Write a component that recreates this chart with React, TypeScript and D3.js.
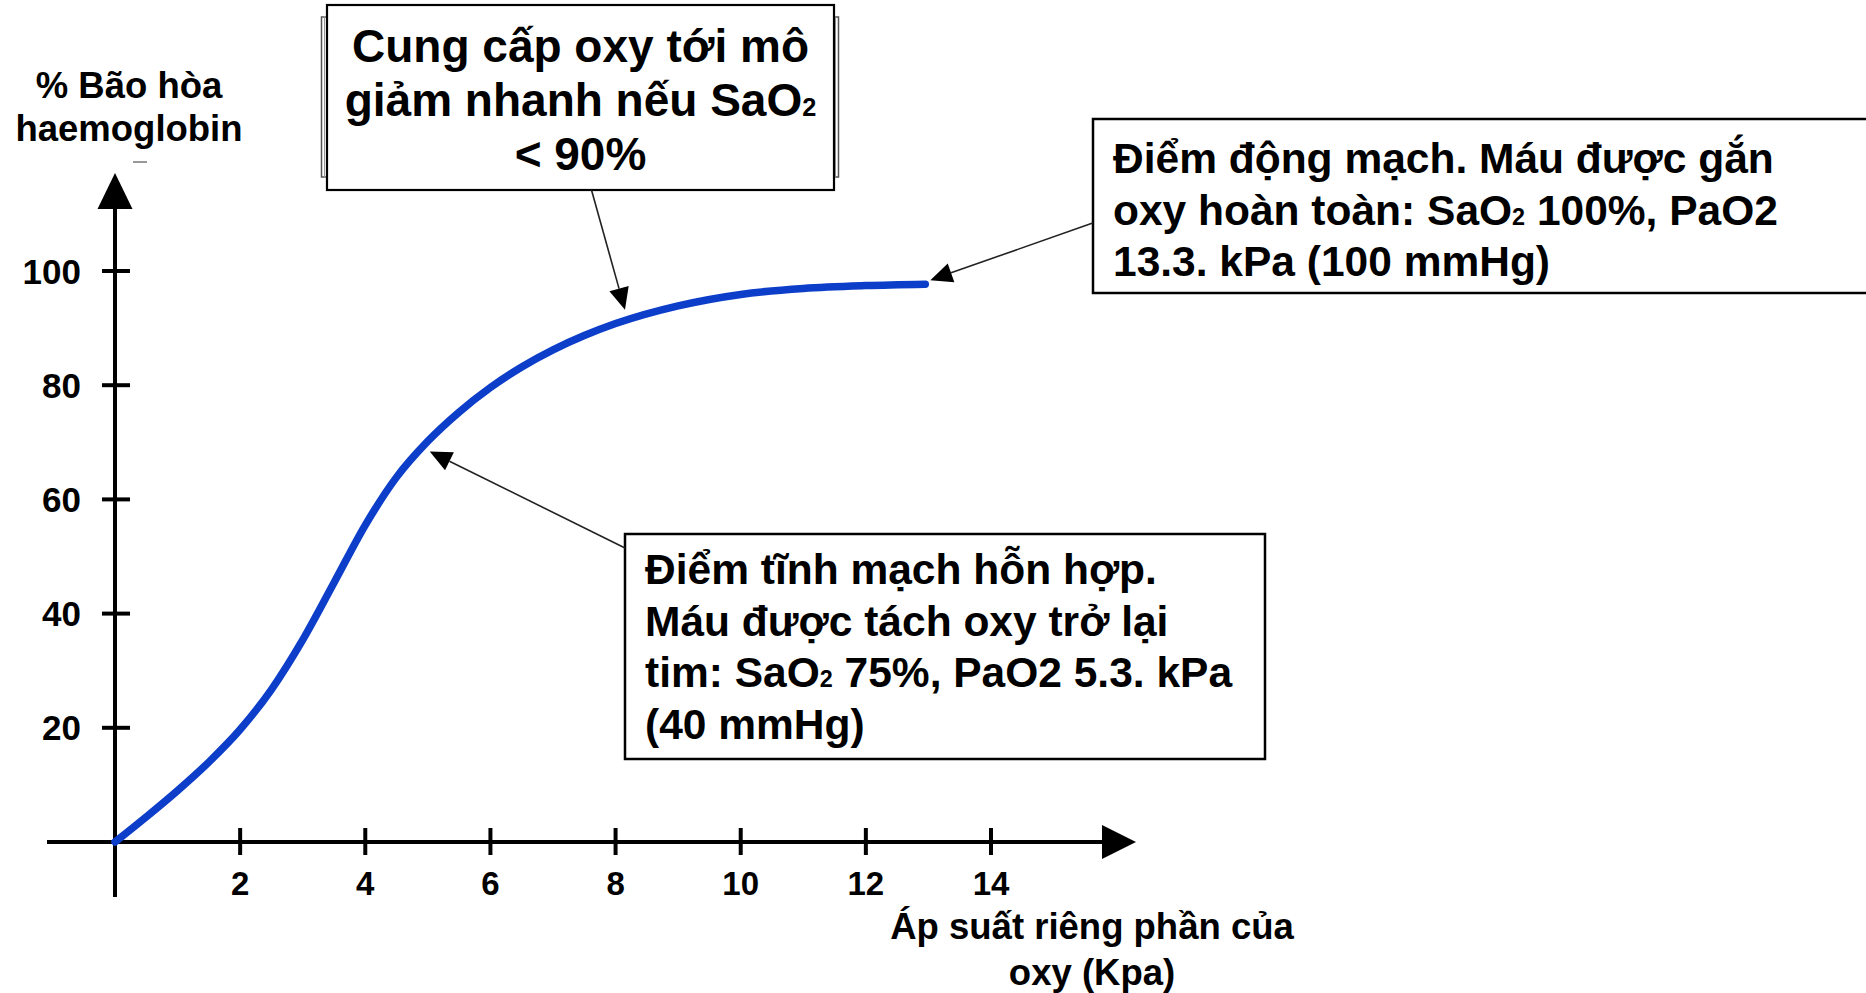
import React from "react";
import * as d3 from "d3";

// ---- data ----
const curveX = [0, 0.5, 1, 1.5, 2, 2.5, 3, 3.5, 4, 4.5, 5, 5.5, 6, 6.5, 7, 7.5, 8, 9, 10, 11, 12, 12.95];
const curveY = [0, 4.4, 9.0, 14.0, 19.7, 26.7, 35.4, 45.4, 55.5, 63.9, 70.2, 75.3, 79.6, 83.2, 86.2, 88.7, 90.8, 93.9, 95.9, 96.95, 97.45, 97.7];
const xTicks = [2, 4, 6, 8, 10, 12, 14];
const yTicks = [20, 40, 60, 80, 100];
const yTitle = ["% Bão hòa", "haemoglobin"];
const xTitle = ["Áp suất riêng phần của", "oxy (Kpa)"];
// annotation arrow tips in data coordinates
const tipX = [8.15, 13.03, 5.03];
const tipY = [93.2, 98.4, 68.4];

const W = 1866;
const H = 993;

type Seg = string | { sub: string };
const box1Lines: Seg[][] = [
  ["Cung cấp oxy tới mô"],
  ["giảm nhanh nếu SaO", { sub: "2" }],
  ["< 90%"],
];
const box2Lines: Seg[][] = [
  ["Điểm động mạch. Máu được gắn"],
  ["oxy hoàn toàn: SaO", { sub: "2" }, " 100%, PaO2"],
  ["13.3. kPa (100 mmHg)"],
];
const box3Lines: Seg[][] = [
  ["Điểm tĩnh mạch hỗn hợp."],
  ["Máu được tách oxy trở lại"],
  ["tim: SaO", { sub: "2" }, " 75%, PaO2 5.3. kPa"],
  ["(40 mmHg)"],
];

const FONT = "'Liberation Sans', Arial, Helvetica, sans-serif";

function renderSegs(segs: Seg[], fs: number) {
  return segs.map((s, i) =>
    typeof s === "string" ? (
      <tspan key={i}>{s}</tspan>
    ) : (
      <tspan key={i} fontSize={fs * 0.55}>{s.sub}</tspan>
    )
  );
}

function Arrow({ x1, y1, x2, y2 }: { x1: number; y1: number; x2: number; y2: number }) {
  const ang = Math.atan2(y2 - y1, x2 - x1);
  const L = 22;
  const hw = 10;
  const bx = x2 - L * Math.cos(ang);
  const by = y2 - L * Math.sin(ang);
  const px = -Math.sin(ang) * hw;
  const py = Math.cos(ang) * hw;
  return (
    <g>
      <line x1={x1} y1={y1} x2={bx} y2={by} stroke="#222" strokeWidth={1.6} />
      <polygon points={`${x2},${y2} ${bx + px},${by + py} ${bx - px},${by - py}`} fill="#000" />
    </g>
  );
}

export default function App() {
  const x = d3.scaleLinear().domain([0, 14]).range([115, 991]);
  const y = d3.scaleLinear().domain([0, 100]).range([842, 271]);
  const pts: [number, number][] = curveX.map((v, i) => [v, curveY[i]]);
  const line = d3
    .line<[number, number]>()
    .x((d) => x(d[0]))
    .y((d) => y(d[1]))
    .curve(d3.curveMonotoneX);

  const x0 = x(0);
  const y0 = y(0);

  return (
    <svg
      width={W}
      height={H}
      viewBox={`0 0 ${W} ${H}`}
      style={{ position: "absolute", left: 0, top: 0, background: "#fff" }}
    >
      <rect x={0} y={0} width={W} height={H} fill="#fff" />

      {/* y axis */}
      <line x1={x0} y1={205} x2={x0} y2={897} stroke="#000" strokeWidth={4} />
      <polygon points={`${x0},173 ${x0 - 17.5},209 ${x0 + 17.5},209`} fill="#000" />
      {/* x axis */}
      <line x1={47} y1={y0} x2={1105} y2={y0} stroke="#000" strokeWidth={4} />
      <polygon points={`1136,${y0} 1102,${y0 - 17} 1102,${y0 + 17}`} fill="#000" />

      {yTicks.map((t) => (
        <g key={"y" + t}>
          <line x1={x0 - 13} x2={x0 + 15} y1={y(t)} y2={y(t)} stroke="#000" strokeWidth={4} />
          <text
            x={81}
            y={y(t) + 12.5}
            textAnchor="end"
            fontFamily={FONT}
            fontWeight="bold"
            fontSize={35}
            fill="#000"
          >
            {t}
          </text>
        </g>
      ))}
      {xTicks.map((t) => (
        <g key={"x" + t}>
          <line x1={x(t)} x2={x(t)} y1={y0 - 14} y2={y0 + 13} stroke="#000" strokeWidth={4} />
          <text
            x={x(t)}
            y={895}
            textAnchor="middle"
            fontFamily={FONT}
            fontWeight="bold"
            fontSize={33}
            fill="#000"
          >
            {t}
          </text>
        </g>
      ))}

      {/* axis titles */}
      {yTitle.map((s, i) => (
        <text key={s} x={129} y={98 + i * 43} textAnchor="middle" fontFamily={FONT} fontWeight="bold" fontSize={36.5} fill="#000">
          {s}
        </text>
      ))}
      <line x1={133} y1={162} x2={147} y2={162} stroke="#999" strokeWidth={2} />
      {xTitle.map((s, i) => (
        <text key={s} x={1092} y={939 + i * 46} textAnchor="middle" fontFamily={FONT} fontWeight="bold" fontSize={36.5} fill="#000">
          {s}
        </text>
      ))}

      {/* curve */}
      <path d={line(pts) || ""} fill="none" stroke="#0D3EC9" strokeWidth={7.5} strokeLinecap="round" strokeLinejoin="round" />

      {/* box 1 */}
      <rect x={321.5} y={17} width={517} height={160} fill="none" stroke="#555" strokeWidth={1.5} />
      <rect x={324.5} y={17} width={511} height={160} fill="none" stroke="#999" strokeWidth={1} />
      <rect x={327} y={5} width={507} height={185} fill="#fff" stroke="#000" strokeWidth={2.2} />
      {box1Lines.map((segs, i) => (
        <text key={i} x={580.5} y={62 + i * 54} textAnchor="middle" fontFamily={FONT} fontWeight="bold" fontSize={46} fill="#000">
          {renderSegs(segs, 46)}
        </text>
      ))}
      <Arrow x1={591.5} y1={190} x2={x(tipX[0])} y2={y(tipY[0])} />

      {/* box 2 */}
      <rect x={1093} y={119} width={800} height={174} fill="#fff" stroke="#000" strokeWidth={2.5} />
      {box2Lines.map((segs, i) => (
        <text key={i} x={1113} y={173 + i * 51.5} fontFamily={FONT} fontWeight="bold" fontSize={42.5} fill="#000">
          {renderSegs(segs, 42.5)}
        </text>
      ))}
      <Arrow x1={1092.7} y1={223} x2={x(tipX[1])} y2={y(tipY[1])} />

      {/* box 3 */}
      <rect x={625} y={534} width={640} height={225} fill="#fff" stroke="#000" strokeWidth={2.5} />
      {box3Lines.map((segs, i) => (
        <text key={i} x={645} y={584 + i * 51.5} fontFamily={FONT} fontWeight="bold" fontSize={42.5} fill="#000">
          {renderSegs(segs, 42.5)}
        </text>
      ))}
      <Arrow x1={625} y1={548} x2={x(tipX[2])} y2={y(tipY[2])} />
    </svg>
  );
}
